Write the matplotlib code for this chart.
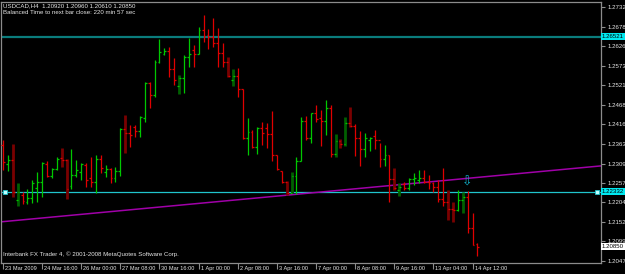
import matplotlib

matplotlib.use("Agg")
import matplotlib.pyplot as plt
import matplotlib.transforms as mtrans
import numpy as np

plt.rcParams["font.family"] = ["Liberation Sans", "DejaVu Sans"]

# H4 bars, USDCAD, 23 Mar 2009 08:00 .. 14 Apr 2009 16:00
opens = [
    1.2359, 1.2308, 1.2319, 1.2211, 1.2224, 1.2206, 1.2216, 1.2243, 1.2260, 1.2308,
    1.2276, 1.2295, 1.2324, 1.2319, 1.2249, 1.2278, 1.2287, 1.2305, 1.2270, 1.2260,
    1.2322, 1.2287, 1.2295, 1.2270, 1.2289, 1.2403, 1.2392, 1.2408, 1.2397, 1.2432,
    1.2527, 1.2494, 1.2584, 1.2605, 1.2613, 1.2565, 1.2519, 1.2540, 1.2597, 1.2616,
    1.2605, 1.2670, 1.2656, 1.2651, 1.2635, 1.2608, 1.2584, 1.2535, 1.2546, 1.2511,
    1.2378, 1.2395, 1.2354, 1.2405, 1.2405, 1.2389, 1.2332, 1.2289, 1.2260, 1.2230,
    1.2276, 1.2316, 1.2424, 1.2378, 1.2446, 1.2432, 1.2424, 1.2459, 1.2335, 1.2370,
    1.2362, 1.2419, 1.2411, 1.2378, 1.2349, 1.2373, 1.2384, 1.2373, 1.2322, 1.2332,
    1.2268, 1.2238, 1.2254, 1.2243, 1.2268, 1.2265, 1.2270, 1.2260, 1.2257, 1.2246,
    1.2214, 1.2206, 1.2187, 1.2184, 1.2211, 1.2219, 1.2135, 1.2092,
]
highs = [
    1.2373, 1.2332, 1.2362, 1.2257, 1.2233, 1.2241, 1.2265, 1.2287, 1.2314, 1.2316,
    1.2297, 1.2327, 1.2351, 1.2322, 1.2349, 1.2319, 1.2311, 1.2311, 1.2327, 1.2332,
    1.2332, 1.2305, 1.2297, 1.2300, 1.2405, 1.2440, 1.2413, 1.2413, 1.2438, 1.2530,
    1.2530, 1.2589, 1.2646, 1.2621, 1.2624, 1.2594, 1.2548, 1.2602, 1.2648, 1.2629,
    1.2678, 1.2710, 1.2673, 1.2702, 1.2675, 1.2635, 1.2597, 1.2565, 1.2567, 1.2511,
    1.2432, 1.2400, 1.2408, 1.2421, 1.2419, 1.2451, 1.2332, 1.2289, 1.2262, 1.2287,
    1.2327, 1.2435, 1.2438, 1.2446, 1.2467, 1.2454, 1.2481, 1.2467, 1.2389, 1.2376,
    1.2435, 1.2462, 1.2416, 1.2397, 1.2392, 1.2381, 1.2400, 1.2365, 1.2359, 1.2332,
    1.2297, 1.2257, 1.2260, 1.2270, 1.2284, 1.2292, 1.2292, 1.2278, 1.2260, 1.2265,
    1.2297, 1.2238, 1.2206, 1.2238, 1.2233, 1.2235, 1.2176, 1.2096,
]
lows = [
    1.2292, 1.2289, 1.2219, 1.2195, 1.2200, 1.2200, 1.2203, 1.2206, 1.2219, 1.2273,
    1.2270, 1.2292, 1.2300, 1.2214, 1.2241, 1.2273, 1.2265, 1.2246, 1.2246, 1.2230,
    1.2284, 1.2273, 1.2257, 1.2260, 1.2276, 1.2338, 1.2354, 1.2381, 1.2381, 1.2421,
    1.2459, 1.2489, 1.2581, 1.2602, 1.2543, 1.2521, 1.2497, 1.2500, 1.2570, 1.2570,
    1.2605, 1.2638, 1.2619, 1.2624, 1.2570, 1.2570, 1.2543, 1.2519, 1.2489, 1.2376,
    1.2332, 1.2351, 1.2335, 1.2359, 1.2351, 1.2316, 1.2292, 1.2257, 1.2224, 1.2230,
    1.2227, 1.2316, 1.2373, 1.2365, 1.2421, 1.2357, 1.2386, 1.2327, 1.2327, 1.2351,
    1.2357, 1.2408, 1.2330, 1.2303, 1.2327, 1.2343, 1.2349, 1.2300, 1.2303, 1.2206,
    1.2238, 1.2222, 1.2238, 1.2238, 1.2251, 1.2257, 1.2257, 1.2241, 1.2233, 1.2206,
    1.2195, 1.2157, 1.2152, 1.2181, 1.2176, 1.2122, 1.2089, 1.2061,
]
closes = [
    1.2314, 1.2319, 1.2233, 1.2233, 1.2208, 1.2216, 1.2257, 1.2260, 1.2311, 1.2276,
    1.2295, 1.2322, 1.2319, 1.2241, 1.2278, 1.2292, 1.2308, 1.2265, 1.2260, 1.2322,
    1.2297, 1.2295, 1.2270, 1.2289, 1.2403, 1.2392, 1.2386, 1.2397, 1.2435, 1.2527,
    1.2494, 1.2584, 1.2611, 1.2613, 1.2565, 1.2535, 1.2540, 1.2597, 1.2605, 1.2605,
    1.2670, 1.2654, 1.2651, 1.2635, 1.2608, 1.2584, 1.2546, 1.2546, 1.2511, 1.2378,
    1.2395, 1.2354, 1.2405, 1.2392, 1.2389, 1.2332, 1.2295, 1.2260, 1.2230, 1.2276,
    1.2316, 1.2424, 1.2378, 1.2446, 1.2430, 1.2424, 1.2459, 1.2335, 1.2370, 1.2362,
    1.2419, 1.2411, 1.2378, 1.2349, 1.2378, 1.2378, 1.2373, 1.2322, 1.2332, 1.2268,
    1.2243, 1.2246, 1.2243, 1.2268, 1.2270, 1.2270, 1.2260, 1.2257, 1.2246, 1.2214,
    1.2206, 1.2187, 1.2184, 1.2211, 1.2219, 1.2135, 1.2089, 1.2085,
]
# bars drawn with the dark, thick overlay
dark_bars = [2, 3, 12, 13, 25, 36, 46, 47, 58, 59, 68, 69, 70, 71, 80, 81, 91, 92, 94]

time_label_bars = [0, 8, 16, 24, 32, 40, 48, 56, 64, 72, 80, 88, 96]
time_labels = [
    "23 Mar 2009", "24 Mar 16:00", "26 Mar 00:00", "27 Mar 08:00", "30 Mar 16:00",
    "1 Apr 00:00", "2 Apr 08:00", "3 Apr 16:00", "7 Apr 00:00", "8 Apr 08:00",
    "9 Apr 16:00", "13 Apr 04:00", "14 Apr 12:00",
]
price_ticks = [
    1.27320, 1.26785, 1.26260, 1.25735, 1.25210, 1.24685, 1.24160,
    1.23635, 1.23095, 1.22570, 1.22045, 1.21520, 1.20995, 1.20470,
]
hline_top = 1.26521
hline_low = 1.22332
trend_points = [(-0.4, 1.2152), (122.2, 1.2303)]
arrow_bar, arrow_price = 94.9, 1.2258
header = "USDCAD,H4  1.20920 1.20960 1.20610 1.20850"
timer_text = "Balanced Time to next bar close: 220 min 57 sec"
footer = "Interbank FX Trader 4, \u00a9 2001-2008 MetaQuotes Software Corp."

UP, DOWN = "#00c800", "#e00000"
DARK_UP, DARK_DOWN = "#006000", "#7a0000"
GRID = "#8c8c8c"
TXT = "#e6e6e6"
FS = 4.4
FS_TIME = 4.1

fig = plt.figure(figsize=(6.25, 2.74), dpi=100, facecolor="black")
ax = fig.add_axes([0.0015, 0.0401, 0.96, 0.9544])
ax.set_facecolor("black")

o = np.array(opens)
h = np.array(highs)
l = np.array(lows)
c = np.array(closes)
idx = np.arange(len(o))
up = c >= o
cols = np.where(up, UP, DOWN)

dk = np.array(dark_bars)
dk_cols = np.where(up[dk], DARK_UP, DARK_DOWN)
ax.vlines(idx[dk], l[dk], h[dk], colors=dk_cols, lw=2.0, zorder=2)

thin = np.setdiff1d(idx, dk)
ax.vlines(idx[thin], l[thin], h[thin], colors=cols[thin], lw=0.9, zorder=3)
ax.hlines(o, idx - 0.38, idx, colors=cols, lw=0.9, zorder=3)
ax.hlines(c, idx, idx + 0.38, colors=cols, lw=0.9, zorder=3)

# objects
ax.axhline(hline_top, color="#0a7c7c", lw=1.6, zorder=1)
ax.axhline(hline_low, color="#20c4cc", lw=0.9, zorder=1)
ax.axline(trend_points[0], trend_points[1], color="#a000a8", lw=1.1, zorder=1)
ax.plot([0.006, 0.994], [hline_low, hline_low], transform=ax.get_yaxis_transform(),
        ls="none", marker="s", ms=3, mfc="#c0ffff", mec="#20c4cc", mew=0.6,
        zorder=5, clip_on=False)
ax.text(arrow_bar, arrow_price, "\u21e9", color="#10b0c8", fontsize=9,
        family="DejaVu Sans", ha="center", va="center", zorder=6)

ax.set_xlim(-0.41, 122.24)
ax.set_ylim(1.20408, 1.27470)

for sp in ax.spines.values():
    sp.set_color(GRID)
    sp.set_linewidth(0.9)

ax.yaxis.tick_right()
ax.set_yticks(price_ticks, labels=[f"{p:.5f}" for p in price_ticks])
ax.tick_params(axis="y", colors=GRID, labelcolor=TXT, labelsize=FS,
               length=3, width=0.8, pad=1.5)
ax.set_xticks(time_label_bars, labels=[""] * len(time_label_bars))
ax.tick_params(axis="x", colors=GRID, length=4, width=0.8, direction="out")

lab_tr = mtrans.blended_transform_factory(ax.transData, ax.transAxes) + \
    mtrans.ScaledTranslation(2 / 100, -2.5 / 100, fig.dpi_scale_trans)
for b, lab in zip(time_label_bars, time_labels):
    ax.text(b, 0, lab, transform=lab_tr, color=TXT, fontsize=FS_TIME,
            ha="left", va="top", clip_on=False)

# price labels on the scale
box_tr = ax.get_yaxis_transform() + \
    mtrans.ScaledTranslation(1 / 100, 0, fig.dpi_scale_trans)
for val, fc in [(hline_top, "#00e8f0"), (hline_low, "#00e8f0"), (closes[-1], "white")]:
    ax.text(1.0, val, f"{val:.5f}", transform=box_tr, fontsize=FS, color="black",
            ha="left", va="center", clip_on=False, zorder=7,
            bbox=dict(boxstyle="square,pad=0.2", fc=fc, ec="none"))

fig.text(3 / 625, 1 - 3 / 274, header, color=TXT, fontsize=FS, va="top")
fig.text(3 / 625, 1 - 10.5 / 274, timer_text, color=TXT, fontsize=FS, va="top")
fig.text(3 / 625, 1 - 251 / 274, footer, color=TXT, fontsize=FS, va="top")

fig.savefig("out.png", dpi=100, facecolor="black")
